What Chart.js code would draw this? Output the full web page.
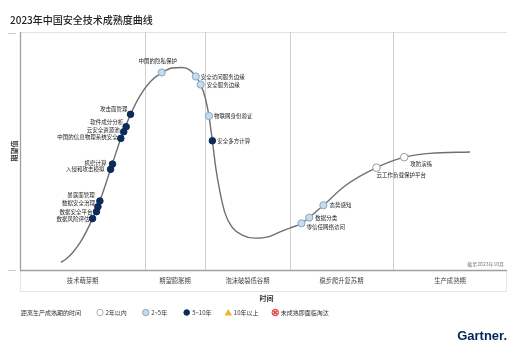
<!DOCTYPE html>
<html><head><meta charset="utf-8">
<script src="https://cdn.jsdelivr.net/npm/chart.js@4.4.1/dist/chart.umd.min.js"></script>
<style>html,body{margin:0;padding:0;background:#fff;}canvas{display:block;}</style>
</head><body>
<canvas id="c" width="524" height="355"></canvas>
<script>
// ---- data ----
const title = '2023年中国安全技术成熟度曲线';
const phases = ['技术萌芽期', '期望膨胀期', '泡沫破裂低谷期', '稳步爬升复苏期', '生产成熟期'];
const phaseBounds = [0, 25.7, 38.0, 55.4, 76.6, 100];
const curveX = [8.4, 9.6, 11.0, 12.5, 14.9, 16.4, 18.6, 20.7, 22.7, 24.6, 26.7, 29.1, 31.2, 33.3, 34.9, 36.1, 37.1, 38.0, 38.8, 39.5, 40.2, 41.1, 42.1, 43.5, 45.6, 48.3, 50.9, 53.4, 55.4, 57.8, 62.3, 66.7, 73.2, 78.9, 84.2, 92.4];
const curveY = [3.2, 4.8, 7.8, 12.0, 21.6, 29.0, 42.3, 55.3, 65.4, 73.1, 79.0, 82.9, 84.9, 85.1, 84.0, 81.3, 77.9, 72.7, 64.7, 54.3, 42.9, 32.4, 23.9, 18.1, 14.7, 13.4, 13.9, 16.0, 17.6, 19.6, 27.2, 35.3, 43.0, 47.4, 49.0, 49.6];
const techNames = ['中国的隐私保护', '安全访问服务边缘', '安全服务边缘', '物联网身份验证', '安全多方计算', '攻击面管理', '软件成分分析', '云安全资源池', '中国的信息物理系统安全', '机密计算', '入侵和攻击模拟', '暴露面管理', '数据安全治理', '数据安全平台', '数据风险评估', '零信任网络访问', '数据分类', '态势感知', '云工作负载保护平台', '攻防演练'];
const techX = [29.1, 36.1, 37.1, 38.8, 39.5, 22.7, 21.8, 21.3, 20.7, 19.0, 18.6, 16.4, 16.0, 15.7, 14.9, 57.8, 59.4, 62.3, 73.2, 78.9];
const techY = [83.0, 81.3, 77.9, 64.7, 54.3, 65.4, 60.2, 58.1, 55.3, 44.5, 42.3, 29.0, 26.6, 24.5, 21.6, 19.6, 22.0, 27.2, 43.0, 47.4];
// 0: 2年以内, 1: 2~5年, 2: 5~10年
const techGroup = [1, 1, 1, 1, 2, 2, 2, 2, 2, 2, 2, 2, 2, 2, 2, 1, 1, 1, 0, 0];
const legendTitle = '距离生产成熟期的时间';
const legendItems = ['2年以内', '2~5年', '5~10年', '10年以上', '未成熟即面临淘汰'];
const note = '截至2023年10月';
const xTitle = '时间';
const yTitle = '期望值';
const brand = 'Gartner.';

// ---- layout / style ----
const labelPlace = [
  ['center', -4, -12], ['left', 5, 0], ['left', 6, 0], ['left', 5, 0], ['left', 5, 0],
  ['right', -3, -5], ['right', -3, -5], ['right', -4, -2], ['right', -3, -1], ['right', -6, -1],
  ['right', -6, 0], ['right', -5, -6], ['right', -3, -4], ['right', -4, 0], ['right', -3, 0],
  ['left', 5, 4], ['left', 6, 0], ['left', 6, 0], ['left', 0, 7], ['left', 6, 7]
];
const groupStyle = [
  {bg: '#ffffff', border: '#9a9a9a', r: 3.8},
  {bg: '#c6dcec', border: '#86a7c3', r: 3.6},
  {bg: '#0c2b5b', border: '#0c2b5b', r: 3.3}
];
const FONT = '"Noto Sans CJK SC", "Noto Sans", sans-serif';

const datasets = groupStyle.map((s, g) => ({
  type: 'scatter',
  data: techNames.map((n, i) => ({x: techX[i], y: techY[i], g: techGroup[i]})).filter(p => p.g === g),
  backgroundColor: s.bg, borderColor: s.border, borderWidth: 1, pointRadius: s.r, order: 0
}));
datasets.push({
  type: 'line',
  data: curveX.map((x, i) => ({x, y: curveY[i]})),
  borderColor: '#707070', borderWidth: 1.4, pointRadius: 0, fill: false,
  cubicInterpolationMode: 'monotone', order: 10
});

const hypePlugin = {
  id: 'hype',
  beforeDatasetsDraw(chart) {
    const {ctx, chartArea: a, scales: {x}} = chart;
    ctx.save();
    ctx.strokeStyle = '#e2e2e2'; ctx.lineWidth = 1;
    ctx.beginPath(); ctx.moveTo(a.left, a.top + 0.5); ctx.lineTo(a.right, a.top + 0.5); ctx.stroke();
    ctx.strokeStyle = '#cfcfcf';
    phaseBounds.slice(1, -1).forEach(v => {
      const px = Math.round(x.getPixelForValue(v)) + 0.5;
      ctx.beginPath(); ctx.moveTo(px, a.top); ctx.lineTo(px, a.bottom); ctx.stroke();
    });
    ctx.strokeStyle = '#e6e6e6';
    ctx.strokeRect(a.left + 0.5, a.bottom + 0.5, a.right - a.left - 1, 21);
    ctx.strokeStyle = '#a0a0a0'; ctx.lineWidth = 1.3;
    ctx.beginPath(); ctx.moveTo(a.left + 0.5, a.top); ctx.lineTo(a.left + 0.5, a.bottom);
    ctx.moveTo(a.left, a.bottom + 0.5); ctx.lineTo(a.right, a.bottom + 0.5); ctx.stroke();
    ctx.strokeStyle = '#c8c8c8'; ctx.lineWidth = 1;
    ctx.beginPath(); ctx.moveTo(8, a.top + 1.5); ctx.lineTo(16, a.top + 1.5);
    ctx.moveTo(8, a.bottom + 0.5); ctx.lineTo(16, a.bottom + 0.5); ctx.stroke();
    ctx.restore();
  },
  afterDraw(chart) {
    const {ctx, chartArea: a, scales: {x, y}} = chart;
    ctx.save();
    ctx.fillStyle = '#222'; ctx.textBaseline = 'middle'; ctx.textAlign = 'left';
    ctx.font = '500 10px ' + FONT;
    ctx.fillText(title, 10, 20);
    ctx.font = '5.5px ' + FONT; ctx.fillStyle = '#222';
    techNames.forEach((n, i) => {
      const [al, dx, dy] = labelPlace[i];
      ctx.textAlign = al;
      ctx.fillText(n, x.getPixelForValue(techX[i]) + dx, y.getPixelForValue(techY[i]) + dy);
    });
    ctx.font = '6.3px ' + FONT; ctx.fillStyle = '#444'; ctx.textAlign = 'center';
    phases.forEach((p, i) => {
      const cx = (x.getPixelForValue(phaseBounds[i]) + x.getPixelForValue(phaseBounds[i + 1])) / 2;
      ctx.fillText(p, cx, a.bottom + 11);
    });
    ctx.font = '5px ' + FONT; ctx.fillStyle = '#777'; ctx.textAlign = 'right';
    ctx.fillText(note, a.right - 3, a.bottom - 6);
    ctx.font = 'bold 7px ' + FONT; ctx.fillStyle = '#333'; ctx.textAlign = 'center';
    ctx.fillText(xTitle, (a.left + a.right) / 2 + 3, 298);
    ctx.save(); ctx.translate(14, (a.top + a.bottom) / 2); ctx.rotate(-Math.PI / 2);
    ctx.fillText(yTitle, 0, 0); ctx.restore();
    const ly = 312.5;
    ctx.font = '6px ' + FONT; ctx.fillStyle = '#333'; ctx.textAlign = 'left';
    ctx.fillText(legendTitle, 21, ly);
    const mx = [100, 145.7, 186.7, 228.3, 275.3];
    legendItems.forEach((t, i) => {
      const cx = mx[i];
      ctx.lineWidth = 1;
      if (i < 3) {
        const s = groupStyle[i];
        ctx.beginPath(); ctx.arc(cx, ly, i === 2 ? 2.8 : 3.2, 0, Math.PI * 2);
        ctx.fillStyle = s.bg; ctx.fill(); ctx.strokeStyle = i === 0 ? '#b0b0b0' : s.border; ctx.stroke();
      } else if (i === 3) {
        ctx.beginPath(); ctx.moveTo(cx, ly - 3.5); ctx.lineTo(cx + 3.8, ly + 3); ctx.lineTo(cx - 3.8, ly + 3); ctx.closePath();
        ctx.fillStyle = '#e8b933'; ctx.fill();
      } else {
        ctx.beginPath(); ctx.arc(cx, ly, 3.3, 0, Math.PI * 2);
        ctx.fillStyle = '#f4b8b8'; ctx.fill(); ctx.strokeStyle = '#e03a3a'; ctx.stroke();
        ctx.beginPath(); ctx.moveTo(cx - 1.7, ly - 1.7); ctx.lineTo(cx + 1.7, ly + 1.7);
        ctx.moveTo(cx + 1.7, ly - 1.7); ctx.lineTo(cx - 1.7, ly + 1.7); ctx.lineWidth = 1.2; ctx.stroke();
      }
      ctx.fillStyle = '#333';
      ctx.fillText(t, cx + 5.5, ly);
    });
    ctx.font = 'bold 13px "Liberation Sans", Arial, sans-serif'; ctx.fillStyle = '#002856';
    ctx.textAlign = 'right';
    ctx.fillText(brand, 507, 336);
    ctx.restore();
  }
};

new Chart(document.getElementById('c'), {
  type: 'scatter',
  data: {datasets},
  options: {
    responsive: false, animation: false, devicePixelRatio: 1,
    layout: {padding: {left: 20, right: 17, top: 32, bottom: 85}},
    scales: {
      x: {type: 'linear', min: 0, max: 100, display: false},
      y: {type: 'linear', min: 0, max: 100, display: false}
    },
    plugins: {legend: {display: false}, tooltip: {enabled: false}, title: {display: false}}
  },
  plugins: [hypePlugin]
});
</script>
</body></html>
